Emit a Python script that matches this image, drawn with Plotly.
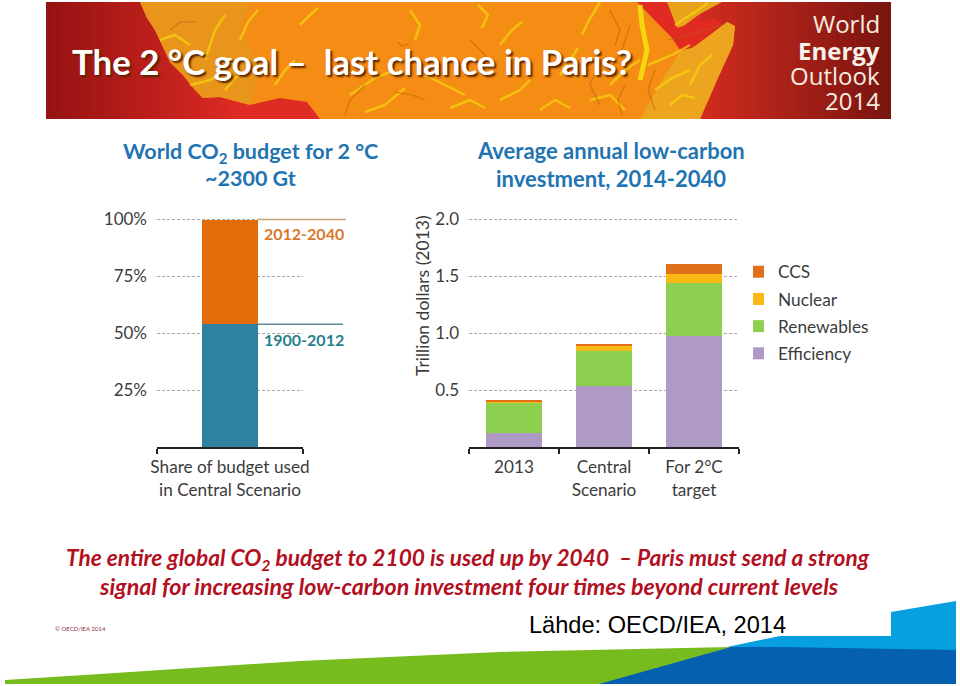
import plotly.graph_objects as go

# ---- chart data ----
budget_category = ["Share of budget used<br>in Central Scenario"]
budget_1900_2012 = [54]
budget_2012_2040 = [46]
budget_ticks = [25, 50, 75, 100]
budget_ticktext = ["25%", "50%", "75%", "100%"]

invest_categories = ["2013", "Central<br>Scenario", "For 2°C<br>target"]
efficiency = [0.125, 0.535, 0.98]
renewables = [0.265, 0.305, 0.465]
nuclear = [0.012, 0.05, 0.08]
ccs = [0.008, 0.017, 0.085]
invest_ticks = [0.5, 1.0, 1.5, 2.0]

W, H = 960, 686
def X(x): return x / W
def Y(y): return 1 - y / H

def poly(points, fill, line=None, width=0, close=True, opacity=1):
    d = "M" + " L".join(f"{X(a):.5f},{Y(b):.5f}" for a, b in points) + (" Z" if close else "")
    return dict(type="path", xref="paper", yref="paper", path=d, layer="below", opacity=opacity,
                fillcolor=fill if close else "rgba(0,0,0,0)",
                line=dict(color=line or "rgba(0,0,0,0)", width=width))

def rect(x0, y0, x1, y1, fill):
    return dict(type="rect", xref="paper", yref="paper", x0=X(x0), x1=X(x1), y0=Y(y1), y1=Y(y0),
                fillcolor=fill, line=dict(width=0), layer="below")

def mix(a, b, t):
    return "rgb(" + ",".join(str(round(p + (q - p) * t)) for p, q in zip(a, b)) + ")"

shapes = []
# banner background: red gradient, dark at both ends
for x in range(46, 891, 5):
    if x < 230:
        c = mix((150, 18, 18), (218, 42, 34), (x - 46) / 184)
    elif x < 700:
        c = "rgb(222,44,36)"
    else:
        c = mix((208, 44, 30), (120, 20, 16), (x - 700) / 191)
    shapes.append(rect(x, 2, min(x + 5.5, 891), 119, c))

# land masses
africa = [(140, 2), (147, 18), (155, 30), (162, 45), (170, 62), (183, 75), (195, 90), (203, 98), (220, 97),
          (250, 105), (280, 98), (307, 102), (320, 119), (700, 119), (717, 80), (733, 45), (735, 26),
          (727, 22), (710, 35), (692, 48), (680, 50), (672, 36), (650, 2)]
arabia = [(667, 2), (722, 2), (700, 14), (678, 30)]
shapes.append(poly(africa, "#f58c14"))
shapes.append(poly(arabia, "#e9a21c"))
shapes.append(poly([(140, 2), (147, 18), (155, 30), (162, 45), (170, 62), (183, 75), (195, 90), (203, 98), (220, 97),
                    (250, 105), (262, 70), (240, 30), (250, 2)], "#e9941a"))
shapes.append(poly([(640, 119), (665, 75), (680, 52), (692, 48), (710, 35), (727, 22), (735, 26), (733, 45),
                    (717, 80), (700, 119)], "#eda41e"))
shapes.append(poly([(637, 2), (665, 2), (676, 28), (712, 18), (722, 24), (695, 46), (680, 50), (672, 38)], "#e02a22"))

yellow_streaks = [
    [(240, 40), (248, 22), (258, 10)], [(160, 40), (175, 35), (190, 45)], [(205, 60), (215, 30), (225, 15)],
    [(275, 85), (285, 70), (295, 60)], [(190, 85), (210, 80), (222, 72)], [(350, 95), (375, 78), (395, 70)],
    [(365, 112), (385, 105), (405, 88)], [(478, 5), (488, 15), (482, 28)], [(500, 45), (512, 30), (522, 22)],
    [(600, 2), (588, 22), (582, 35)], [(610, 85), (625, 70), (640, 60)],
    [(648, 65), (672, 55), (690, 45)], [(590, 100), (610, 95), (625, 110)], [(655, 90), (672, 78), (690, 70)],
    [(675, 25), (695, 12), (708, 3)], [(425, 75), (445, 85), (465, 95)], [(500, 100), (520, 90), (530, 80)],
    [(230, 60), (238, 75), (225, 90)], [(300, 25), (310, 15), (318, 8)], [(410, 10), (420, 25), (415, 40)],
    [(450, 108), (470, 100), (485, 108)], [(560, 75), (570, 60), (578, 48)], [(540, 110), (555, 100), (570, 108)],
    [(690, 85), (700, 65), (712, 55)], [(670, 105), (682, 95), (695, 98)],
]
main_ridge = [(640, 5), (642, 25), (647, 50), (640, 80)]
dark_streaks = [
    [(610, 10), (620, 30), (615, 45)], [(630, 25), (622, 50), (610, 70)], [(600, 60), (590, 85), (600, 105)],
    [(395, 92), (412, 95), (425, 100)], [(170, 30), (180, 22), (195, 22)], [(397, 42), (402, 46), (409, 44)],
    [(668, 40), (690, 35), (725, 24)], [(365, 85), (350, 100), (345, 115)], [(470, 40), (480, 50), (490, 60)],
    [(655, 70), (648, 90), (655, 110)], [(625, 85), (618, 100), (622, 115)],
]
for s in yellow_streaks:
    shapes.append(poly(s, None, "#f6d60e", 2.5, close=False, opacity=0.7))
shapes.append(poly(main_ridge, None, "#f6e00e", 5, close=False, opacity=0.9))
for s in dark_streaks:
    shapes.append(poly(s, None, "#b8620f", 1.2, close=False, opacity=0.6))

# bottom swoosh
shapes.append(poly([(5, 680), (100, 674), (300, 661), (500, 652), (731, 647), (700, 684), (5, 684)], "#76bc1f"))
shapes.append(poly([(727, 647), (780, 636), (891, 636), (891, 612), (956, 601), (956, 652)], "#069fdf"))
shapes.append(poly([(599, 684), (731, 647), (780, 647), (956, 650), (956, 684)], "#0560b0"))

# leader lines beside the budget bar, anchored on the budget values
shapes.append(dict(type="line", xref="paper", yref="y", x0=X(257), x1=X(346),
                   y0=budget_1900_2012[0] + budget_2012_2040[0], y1=budget_1900_2012[0] + budget_2012_2040[0],
                   line=dict(color="#c7a27a", width=1.5)))
shapes.append(dict(type="line", xref="paper", yref="y", x0=X(258), x1=X(343),
                   y0=budget_1900_2012[0], y1=budget_1900_2012[0], line=dict(color="#5f8797", width=1.5)))

FONT = "Lato"
def ann(x, y, text, size, color, anchor="center", bold=False, family=FONT, shadow=None, italic=False, angle=0):
    f = dict(size=size, color=color, family=family, weight=700 if bold else 400,
             style="italic" if italic else "normal")
    if shadow:
        f["shadow"] = shadow
    return dict(xref="paper", yref="paper", x=X(x), y=Y(y), text=text, showarrow=False, textangle=angle,
                xanchor=anchor, yanchor="middle", font=f, align=anchor)

BLUE = "#1f74b2"
RED = "#b3101f"
annotations = [
    ann(70, 61, "The 2 °C goal –  last chance in Paris?", 34.8, "#ffffff", "left", True, shadow="2px 2px 2px #5a2400"),
    ann(882, 23, "World", 24, "#f5ece0", "right", family="Open Sans"),
    ann(882, 50, "Energy", 24, "#f8f2ea", "right", True, family="Open Sans"),
    ann(882, 75, "Outlook", 24, "#f5ece0", "right", family="Open Sans"),
    ann(882, 100, "2014", 24, "#f5ece0", "right", family="Open Sans"),
    ann(250, 152, "World CO<sub>2</sub> budget for 2 °C", 21.5, BLUE, bold=True),
    ann(250, 178, "~2300 Gt", 21.5, BLUE, bold=True),
    ann(611, 150, "Average annual low-carbon", 22, BLUE, bold=True),
    ann(611, 178, "investment, 2014-2040", 22, BLUE, bold=True),
    ann(303.5, 234, "2012-2040", 16, "#d9782e", bold=True),
    ann(303.5, 339, "1900-2012", 16, "#267f8c", bold=True),
    ann(422, 296, "Trillion dollars (2013)", 17.5, "#3c3c3c", angle=-90),
    ann(468, 559, "The entire global CO<sub>2</sub> budget to 2100 is used up by 2040  – Paris must send a strong", 22.7, RED, bold=True, italic=True),
    ann(469, 586, "signal for increasing low-carbon investment four times beyond current levels", 23.2, RED, bold=True, italic=True),
    ann(80, 628, "© OECD/IEA 2014", 6, "#8a3040"),
    ann(527, 625, "Lähde: OECD/IEA, 2014", 23.6, "#000000", "left", family="Liberation Sans"),
]

TICK = dict(family=FONT, size=17, color="#3c3c3c")
GRID = dict(showgrid=True, gridcolor="#a8a8a8", griddash="3px,2px", gridwidth=1, zeroline=False,
            showline=False, ticks="", tickfont=TICK, ticklabelstandoff=9, automargin=False)
XAX = dict(type="category", showgrid=False, zeroline=False, showline=True, linecolor="#222", linewidth=1.5,
           ticks="outside", ticklen=5, tickcolor="#222", tickwidth=1.5, tickson="boundaries", tickangle=0,
           tickfont=dict(family=FONT, size=17.2, color="#3c3c3c"), ticklabelstandoff=4, automargin=False)

fig = go.Figure()
fig.add_bar(x=budget_category, y=budget_1900_2012, marker=dict(color="#2f81a0", line_width=0), width=0.377,
            xaxis="x", yaxis="y", showlegend=False)
fig.add_bar(x=budget_category, y=budget_2012_2040, marker=dict(color="#e36c0a", line_width=0), width=0.377,
            xaxis="x", yaxis="y", showlegend=False)
series = [("Efficiency", efficiency, "#ae9ac4"), ("Renewables", renewables, "#8dcf4e"),
          ("Nuclear", nuclear, "#fdb913"), ("CCS", ccs, "#e0701a")]
for i, (name, vals, col) in enumerate(series):
    fig.add_bar(x=invest_categories, y=vals, name=name, marker=dict(color=col, line_width=0), width=0.62,
                xaxis="x2", yaxis="y2", legendgroup=name, legendrank=len(series) - i)

AX_TOP = 447 - 2.275 * 102
fig.update_layout(
    width=W, height=H, margin=dict(l=0, r=0, t=0, b=0), paper_bgcolor="white", plot_bgcolor="rgba(0,0,0,0)",
    barmode="stack", shapes=shapes, annotations=annotations, font=dict(family=FONT),
    xaxis=dict(domain=[X(157), X(303)], anchor="y", **XAX),
    yaxis=dict(domain=[Y(447), Y(AX_TOP)], range=[0, 102], anchor="x", tickvals=budget_ticks, ticktext=budget_ticktext, **GRID),
    xaxis2=dict(domain=[X(469), X(739)], anchor="y2", **XAX),
    yaxis2=dict(domain=[Y(447), Y(AX_TOP)], range=[0, 2.04], anchor="x2", tickvals=invest_ticks, tickformat=".1f", **GRID),
    legend=dict(x=X(753), y=Y(254), xanchor="left", yanchor="top", traceorder="grouped", tracegroupgap=1.7,
                indentation=-15, font=dict(family=FONT, size=17.3, color="#3c3c3c"), bgcolor="rgba(0,0,0,0)"),
)
fig.write_html("out.html", config={"displayModeBar": False}, post_script="document.body.style.margin='0';")
